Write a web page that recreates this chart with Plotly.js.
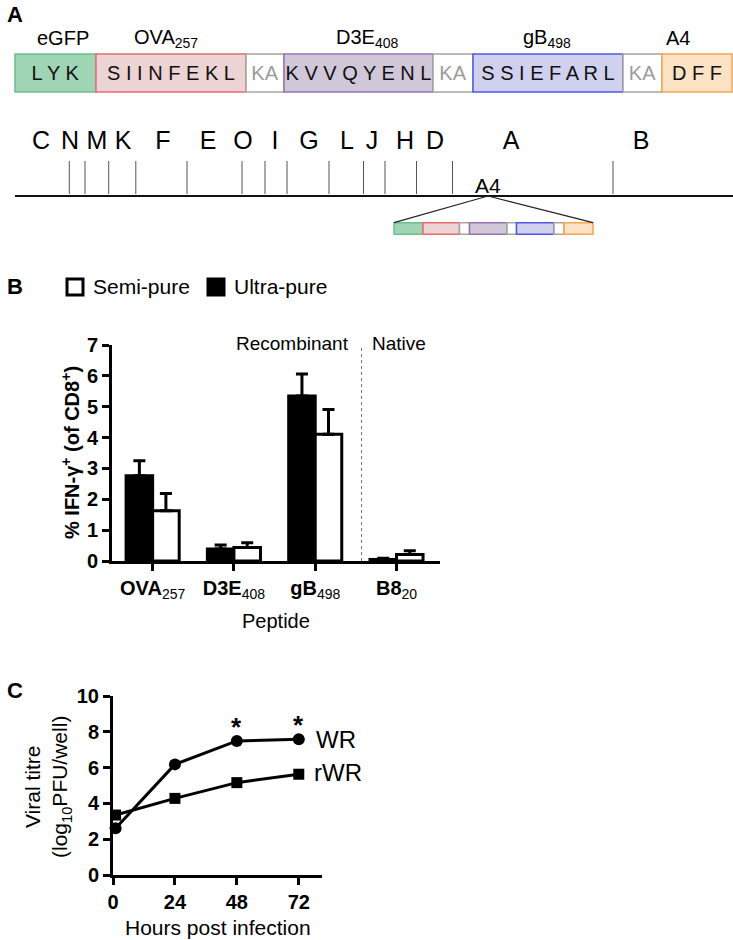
<!DOCTYPE html>
<html><head><meta charset="utf-8">
<script src="https://cdn.plot.ly/plotly-3.0.1.min.js"></script>
<style>html,body{margin:0;padding:0;background:#fff;} #chart{width:733px;height:940px;}</style>
</head><body><div id="chart"></div>
<script>
// ---------------- Panel A data ----------------
const segLabels = ['eGFP', 'OVA<sub>257</sub>', '', 'D3E<sub>408</sub>', '', 'gB<sub>498</sub>', '', 'A4'];
const segSeq = ['L Y K', 'S I I N F E K L', 'KA', 'K V V Q Y E N L', 'KA', 'S S I E F A R L', 'KA', 'D F F'];
const segLen = [81, 150, 38, 149, 40, 150, 39, 70];
const insetLen = [29, 36.5, 10, 37.5, 9.5, 37.5, 10, 29];
const fragLetters = ['C', 'N', 'M', 'K', 'F', 'E', 'O', 'I', 'G', 'L', 'J', 'H', 'D', 'A', 'B'];
const fragLetterPos = [41, 70, 97, 123, 163, 208, 243, 275, 309, 347, 372, 405, 435, 511, 641];
const fragBounds = [69.3, 85, 108.7, 135.8, 187, 242, 265, 287, 329, 363.5, 385, 416.5, 452.5, 613];
const genomeStart = 15, genomeEnd = 733;
const a4Site = 488;

// ---------------- Panel B data ----------------
const peptides = ['OVA257', 'D3E408', 'gB498', 'B820'];
const peptideTicks = ['<b>OVA</b><sub>257</sub>', '<b>D3E</b><sub>408</sub>', '<b>gB</b><sub>498</sub>', '<b>B8</b><sub>20</sub>'];
const seriesNames = ['Semi-pure', 'Ultra-pure'];
const ultraPure = [2.76, 0.39, 5.35, 0.05];
const ultraPureErr = [0.49, 0.13, 0.71, 0.04];
const semiPure = [1.63, 0.44, 4.11, 0.21];
const semiPureErr = [0.56, 0.15, 0.80, 0.12];

// ---------------- Panel C data ----------------
const hours = [1, 24, 48, 72];
const wr = [2.61, 6.18, 7.49, 7.58];
const rwr = [3.35, 4.28, 5.16, 5.63];
const signifHours = [48, 72];

// ---------------- styles ----------------
const FONT = 'Liberation Sans, Arial, Helvetica, sans-serif';
const W = 733, H = 940;
const px = x => x / W, py = y => 1 - y / H;
const segFill = ['#9fd4b5', '#ecd3d4', '#ffffff', '#d0c8d9', '#ffffff', '#cfd1ef', '#ffffff', '#fde2c5'];
const segLine = ['#6dbf8c', '#ea6a70', '#aaa39e', '#9474b4', '#aaa39e', '#4f58ea', '#aaa39e', '#f4a74e'];
const segTextCol = ['#111', '#111', '#9c9c9c', '#111', '#9c9c9c', '#111', '#9c9c9c', '#111'];
const labelShift = [7, -5, 0, 8, 0, -1, 0, -19];
const mainStart = 15, mainY = 73, mainH = 38;
const insetStart = 394, insetY = 228.4, insetH = 11.5;

function cum(arr, s) { const out = []; let p = s; arr.forEach(v => { out.push(p); p += v; }); return out; }
const segBase = cum(segLen, mainStart);
const insetBase = cum(insetLen, insetStart);
const insetEnd = insetBase[insetBase.length - 1] + insetLen[insetLen.length - 1];

const traces = [];
traces.push({
  type: 'bar', orientation: 'h', xaxis: 'x3', yaxis: 'y3',
  x: segLen.concat(insetLen),
  base: segBase.concat(insetBase),
  y: segLen.map(() => mainY).concat(insetLen.map(() => insetY)),
  width: segLen.map(() => mainH).concat(insetLen.map(() => insetH)),
  marker: { color: segFill.concat(segFill), line: { color: segLine.concat(segLine), width: 1.5 } },
  text: segSeq.concat(insetLen.map(() => '')),
  textposition: 'inside', insidetextanchor: 'middle', textangle: 0, constraintext: 'none',
  textfont: { size: 20, color: segTextCol.concat(segTextCol), family: FONT },
  hoverinfo: 'skip', showlegend: false
});
traces.push({ type: 'scatter', mode: 'lines', xaxis: 'x3', yaxis: 'y3', x: [genomeStart, genomeEnd], y: [196, 196],
  line: { color: '#111', width: 2 }, hoverinfo: 'skip', showlegend: false });
const bx = [], by = [];
fragBounds.forEach(b => { bx.push(b, b, null); by.push(161, 194, null); });
traces.push({ type: 'scatter', mode: 'lines', xaxis: 'x3', yaxis: 'y3', x: bx, y: by,
  line: { color: '#555', width: 1 }, hoverinfo: 'skip', showlegend: false });
traces.push({ type: 'scatter', mode: 'text', xaxis: 'x3', yaxis: 'y3', x: fragLetterPos, y: fragLetterPos.map(() => 143),
  text: fragLetters, textfont: { size: 25, family: FONT, color: '#000' }, hoverinfo: 'skip', showlegend: false, cliponaxis: false });
traces.push({ type: 'scatter', mode: 'lines', xaxis: 'x3', yaxis: 'y3', x: [insetStart, a4Site, insetEnd], y: [insetY - insetH / 2, 196, insetY - insetH / 2],
  line: { color: '#222', width: 1.2 }, hoverinfo: 'skip', showlegend: false });

// Panel B bars
traces.push({
  type: 'bar', name: seriesNames[1], x: peptides, y: ultraPure, xaxis: 'x', yaxis: 'y', showlegend: false,
  marker: { color: '#000', line: { color: '#000', width: 3 } },
  error_y: { type: 'data', symmetric: false, array: ultraPureErr, arrayminus: ultraPure.map(() => 0), thickness: 3, width: 6, color: '#000' },
  hoverinfo: 'skip'
});
traces.push({
  type: 'bar', name: seriesNames[0], x: peptides, y: semiPure, xaxis: 'x', yaxis: 'y', showlegend: false,
  marker: { color: '#fff', line: { color: '#000', width: 3 } },
  error_y: { type: 'data', symmetric: false, array: semiPureErr, arrayminus: semiPure.map(() => 0), thickness: 3, width: 6, color: '#000' },
  hoverinfo: 'skip'
});

// Panel C lines
traces.push({ type: 'scatter', mode: 'lines+markers', x: hours, y: wr, xaxis: 'x2', yaxis: 'y2', cliponaxis: false,
  line: { color: '#000', width: 3 }, marker: { symbol: 'circle', size: 12, color: '#000' }, showlegend: false, hoverinfo: 'skip' });
traces.push({ type: 'scatter', mode: 'lines+markers', x: hours, y: rwr, xaxis: 'x2', yaxis: 'y2', cliponaxis: false,
  line: { color: '#000', width: 3 }, marker: { symbol: 'square', size: 11, color: '#000' }, showlegend: false, hoverinfo: 'skip' });

const annotations = [];
const shapes = [];
const panelLbl = (t, x, y) => annotations.push({ text: '<b>' + t + '</b>', xref: 'paper', yref: 'paper', x: px(x), y: py(y),
  xanchor: 'left', yanchor: 'middle', showarrow: false, font: { size: 22, family: FONT, color: '#000' } });
panelLbl('A', 5, 15); panelLbl('B', 5, 287); panelLbl('C', 5, 690);

segLabels.forEach((t, i) => {
  if (!t) return;
  annotations.push({ text: t, xref: 'x3', yref: 'y3', x: segBase[i] + segLen[i] / 2, y: 38, xshift: labelShift[i],
    showarrow: false, xanchor: 'center', yanchor: 'middle', font: { size: 20, family: FONT, color: '#000' } });
});
annotations.push({ text: 'A4', xref: 'x3', yref: 'y3', x: a4Site, y: 185, showarrow: false, xanchor: 'center', yanchor: 'middle',
  font: { size: 21, family: FONT, color: '#000' } });

// manual legend (Semi-pure open square, Ultra-pure filled square)
const legSq = [[67, '#fff'], [208, '#000']];
legSq.forEach((s, i) => {
  shapes.push({ type: 'rect', xref: 'paper', yref: 'paper', x0: px(s[0]), x1: px(s[0] + 16), y0: py(295), y1: py(279),
    line: { color: '#000', width: 3 }, fillcolor: s[1] });
  annotations.push({ text: seriesNames[i], xref: 'paper', yref: 'paper', x: px(s[0] + 24), y: py(287), xanchor: 'left', yanchor: 'middle',
    showarrow: false, font: { size: 21, family: FONT, color: '#000' } });
});

annotations.push({ text: 'Recombinant', xref: 'paper', yref: 'paper', x: px(351), y: py(343), xanchor: 'right', yanchor: 'middle',
  showarrow: false, font: { size: 19, family: FONT, color: '#000' } });
annotations.push({ text: 'Native', xref: 'paper', yref: 'paper', x: px(370), y: py(343), xanchor: 'left', yanchor: 'middle',
  showarrow: false, font: { size: 19, family: FONT, color: '#000' } });
annotations.push({ text: '<b>% IFN-γ<sup>+</sup> (of CD8<sup>+</sup>)</b>', xref: 'paper', yref: 'paper', x: px(71), y: py(453),
  xanchor: 'center', yanchor: 'middle', textangle: -90, showarrow: false, font: { size: 20, family: FONT, color: '#000' } });
annotations.push({ text: 'Peptide', xref: 'paper', yref: 'paper', x: px(276), y: py(621), xanchor: 'center', yanchor: 'middle',
  showarrow: false, font: { size: 20, family: FONT, color: '#000' } });

annotations.push({ text: 'Viral titre<br>(log<sub>10</sub>PFU/well)', xref: 'paper', yref: 'paper', x: px(48), y: py(787),
  xanchor: 'center', yanchor: 'middle', textangle: -90, showarrow: false, font: { size: 21, family: FONT, color: '#000' } });
annotations.push({ text: 'Hours post infection', xref: 'paper', yref: 'paper', x: px(218), y: py(927), xanchor: 'center', yanchor: 'middle',
  showarrow: false, font: { size: 21, family: FONT, color: '#000' } });
annotations.push({ text: 'WR', xref: 'x2', yref: 'y2', x: hours[3], y: wr[3], xshift: 15, xanchor: 'left', yanchor: 'middle',
  showarrow: false, font: { size: 24, family: FONT, color: '#000' } });
annotations.push({ text: 'rWR', xref: 'x2', yref: 'y2', x: hours[3], y: rwr[3], xshift: 13, yshift: 2, xanchor: 'left', yanchor: 'middle',
  showarrow: false, font: { size: 24, family: FONT, color: '#000' } });
signifHours.forEach(h => {
  annotations.push({ text: '<b>*</b>', xref: 'x2', yref: 'y2', x: h, y: wr[hours.indexOf(h)], yshift: -3, xanchor: 'center', yanchor: 'bottom',
    showarrow: false, font: { size: 26, family: FONT, color: '#000' } });
});

shapes.push({ type: 'line', xref: 'x', yref: 'y', x0: 2.57, x1: 2.57, y0: 0, y1: 7.33, line: { color: '#777', width: 1, dash: 'dot' } });

const axCommon = { showgrid: false, zeroline: false, showline: true, linecolor: '#000', linewidth: 3, ticks: 'outside',
  ticklen: 7, tickwidth: 3, tickcolor: '#000' };

const layout = {
  width: W, height: H, margin: { l: 0, r: 0, t: 0, b: 0 }, paper_bgcolor: '#fff', plot_bgcolor: 'rgba(0,0,0,0)',
  font: { family: FONT, color: '#000' },
  barmode: 'group', bargap: 0.347, bargroupgap: 0,
  showlegend: false,
  xaxis: Object.assign({}, axCommon, { domain: [px(112), px(440)], anchor: 'y', type: 'category', range: [-0.5, 3.535],
    tickvals: peptides, ticktext: peptideTicks, tickfont: { size: 20, family: FONT, color: '#000' } }),
  yaxis: Object.assign({}, axCommon, { domain: [py(561), py(345)], anchor: 'x', range: [0, 7], dtick: 1,
    tickfont: { size: 20, family: FONT, color: '#000', weight: 'bold' } }),
  xaxis2: Object.assign({}, axCommon, { domain: [px(113), px(322)], anchor: 'y2', range: [0, 81], tickvals: [0, 24, 48, 72],
    tickfont: { size: 20, family: FONT, color: '#000', weight: 'bold' } }),
  yaxis2: Object.assign({}, axCommon, { domain: [py(875), py(696)], anchor: 'x2', range: [0, 10], dtick: 2,
    tickfont: { size: 20, family: FONT, color: '#000', weight: 'bold' } }),
  xaxis3: { domain: [0, 1], range: [0, W], visible: false, fixedrange: true, anchor: 'y3' },
  yaxis3: { domain: [py(240), 1], range: [240, 0], visible: false, fixedrange: true, anchor: 'x3' },
  shapes: shapes,
  annotations: annotations
};

Plotly.newPlot('chart', traces, layout, { displayModeBar: false, staticPlot: true });
</script>
</body></html>
